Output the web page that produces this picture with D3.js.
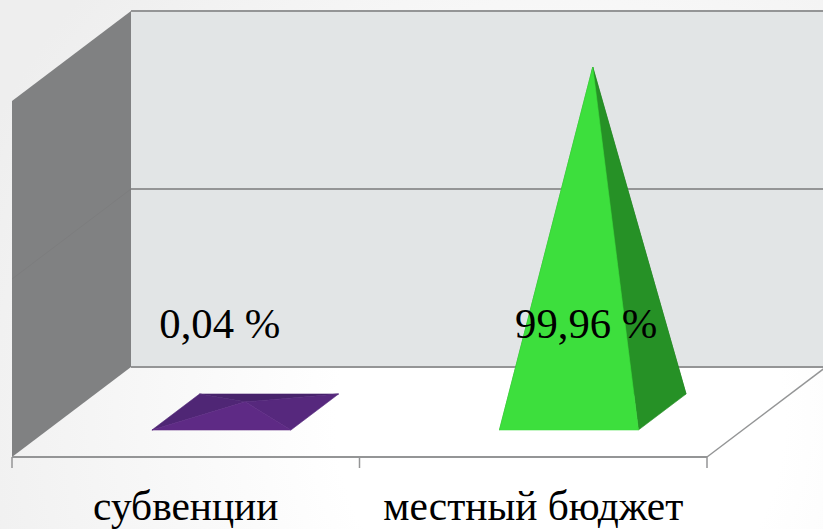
<!DOCTYPE html>
<html>
<head>
<meta charset="utf-8">
<script src="https://cdn.jsdelivr.net/npm/d3@7"></script>
<style>
html, body { margin: 0; padding: 0; background: #fff; overflow: hidden; }
svg { display: block; }
text { font-family: "Liberation Serif", serif; fill: #000; }
</style>
</head>
<body>
<svg id="chart"></svg>
<script>
// chart data
var categories = ["субвенции", "местный бюджет"]
var values = [0.04, 99.96]
var valueLabels = ["0,04 %", "99,96 %"]
var gridValues = [0, 50, 100]

var dimensions = { width: 823, height: 529 }

// the box the chart is drawn in
var left = 12, right = 707, floorY = 457
var depthX = 119, depthY = 90
var wallHeight = 356
var lineColor = "#949596"

var svg = d3.select("#chart")
            .attr("width", dimensions.width)
            .attr("height", dimensions.height)

var xScale = d3.scaleBand()
               .domain(categories)
               .range([left, right])
               .paddingInner(0.6)
               .paddingOuter(0.3)

var wallScale = d3.scaleLinear().domain([0, 100]).range([0, wallHeight])
// pyramid height, the small one still stands a little off the floor
var heightScale = d3.scaleLinear().domain([0, 100]).range([10, 345])

// x, depth 0..1, height in pixels -> screen point
function project(x, depth, h) {
    return [x + depthX * depth, floorY - depthY * depth - (h || 0)]
}
function poly(points) {
    return points.map(p => p.join(",")).join(" ")
}

var defs = svg.append("defs")
var bg = defs.append("radialGradient")
             .attr("id", "bg")
             .attr("gradientUnits", "userSpaceOnUse")
             .attr("cx", 560).attr("cy", 420).attr("r", 640)
bg.append("stop").attr("offset", "0.35").attr("stop-color", "#ffffff")
bg.append("stop").attr("offset", "1").attr("stop-color", "#eeeeee")

svg.append("rect")
   .attr("width", dimensions.width)
   .attr("height", dimensions.height)
   .attr("fill", "url(#bg)")

// back wall
svg.append("rect")
   .attr("x", left + depthX)
   .attr("y", floorY - depthY - wallHeight)
   .attr("width", right - left + 10)
   .attr("height", wallHeight)
   .attr("fill", "#e2e5e6")

// side wall
svg.append("polygon")
   .attr("points", poly([project(left, 0, 0), project(left, 1, 0),
                         project(left, 1, wallHeight), project(left, 0, wallHeight)]))
   .attr("fill", "#808182")

// grid lines on side wall and back wall
gridValues.forEach(v => {
    var h = wallScale(v)
    if (v > 0 && v < 100) {
        svg.append("line")
           .attr("x1", project(left, 0, h)[0]).attr("y1", project(left, 0, h)[1])
           .attr("x2", project(left, 1, h)[0]).attr("y2", project(left, 1, h)[1])
           .style("stroke", "#7c7d7e")
           .style("stroke-width", "1")
    }
    svg.append("line")
       .attr("x1", project(left, 1, h)[0]).attr("y1", project(left, 1, h)[1])
       .attr("x2", project(right, 1, h)[0]).attr("y2", project(right, 1, h)[1])
       .style("stroke", lineColor)
       .style("stroke-width", "2")
})

// floor edges and ticks
svg.append("line")
   .attr("x1", left).attr("y1", floorY)
   .attr("x2", right).attr("y2", floorY)
   .style("stroke", lineColor).style("stroke-width", "2")
svg.append("line")
   .attr("x1", project(right, 0)[0]).attr("y1", project(right, 0)[1])
   .attr("x2", project(right, 1)[0]).attr("y2", project(right, 1)[1])
   .style("stroke", lineColor).style("stroke-width", "1.5")

var tickXs = [left].concat(categories.map(c => xScale(c) + xScale.bandwidth() / 2 + xScale.step() / 2))
svg.append("g")
   .selectAll("line")
   .data(tickXs)
   .enter()
   .append("line")
   .attr("x1", d => d).attr("x2", d => d)
   .attr("y1", floorY).attr("y2", floorY + 11)
   .style("stroke", lineColor).style("stroke-width", "1.5")

// pyramids, four faces each
var faceColors = [
    { back: "#47236b", left: "#4f2675", right: "#56287d", front: "#5e2a85" },
    { back: "#1f7a1f", left: "#2a9a2a", right: "#269126", front: "#3ddf3d" }
]

var pyramids = svg.append("g")
                  .selectAll("g")
                  .data(categories)
                  .enter()
                  .append("g")

pyramids.each(function (c, i) {
    var x0 = xScale(c), x1 = x0 + xScale.bandwidth()
    var fl = project(x0, 0.3), fr = project(x1, 0.3)
    var bl = project(x0, 0.7), br = project(x1, 0.7)
    var apex = project((x0 + x1) / 2, 0.5, heightScale(values[i]))
    var g = d3.select(this)
    var faces = [["back", bl, br], ["left", fl, bl], ["right", fr, br], ["front", fl, fr]]
    faces.forEach(f => {
        // same colour stroke closes the seams between faces
        g.append("polygon")
         .attr("points", poly([f[1], f[2], apex]))
         .attr("fill", faceColors[i][f[0]])
         .attr("stroke", faceColors[i][f[0]])
         .attr("stroke-width", 0.6)
         .attr("stroke-linejoin", "round")
    })
})

// value labels
var labelShift = [34, 53]
svg.append("g")
   .selectAll("text")
   .data(valueLabels)
   .enter()
   .append("text")
   .attr("x", (d, i) => xScale(categories[i]) + xScale.bandwidth() / 2 + labelShift[i])
   .attr("y", 338)
   .attr("text-anchor", "middle")
   .style("font-size", "42.7px")
   .text(d => d)

// category labels
svg.append("g")
   .selectAll("text")
   .data(categories)
   .enter()
   .append("text")
   .attr("x", d => xScale(d) + xScale.bandwidth() / 2)
   .attr("y", 519.5)
   .attr("text-anchor", "middle")
   .style("font-size", "41.4px")
   .text(d => d)
</script>
</body>
</html>
